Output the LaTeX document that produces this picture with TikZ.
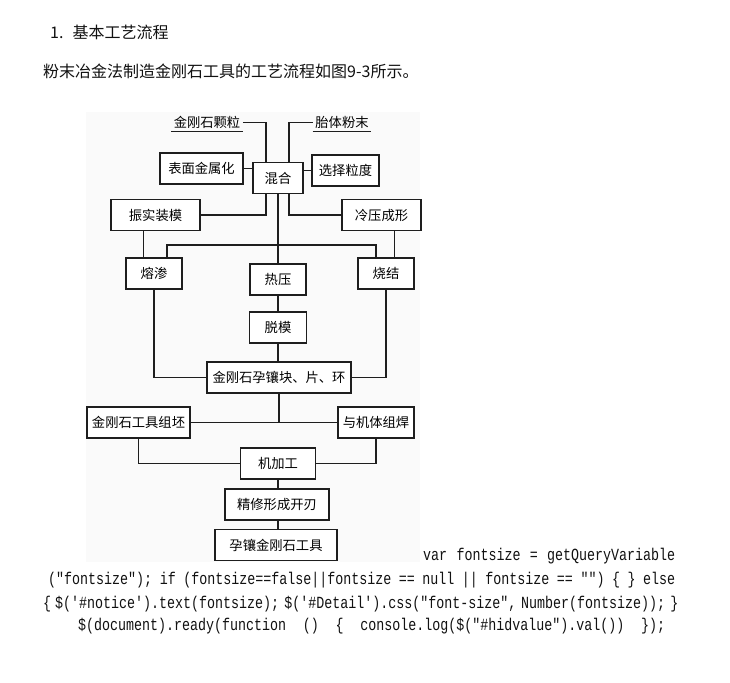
\documentclass[tikz,border=0pt]{standalone}
\usepackage{fontspec}
\setmainfont{Noto Sans CJK SC}
\setmonofont[FakeStretch=0.784]{Liberation Mono}
\usetikzlibrary{positioning}
\definecolor{figBack}{HTML}{FAFAFA}
\definecolor{figLine}{HTML}{1E1E1E}
\definecolor{pageText}{HTML}{111111}
\tikzset{
  box/.style={draw=figLine, fill=white, line width=1.2pt, inner sep=2pt,
              minimum height=31pt, font=\fontsize{13.3}{15}\selectfont},
  lbl/.style={inner sep=2.5pt, font=\fontsize{13.3}{15}\selectfont},
  link/.style={draw=figLine, line width=1.2pt},
  ann/.style={anchor=west, inner sep=0pt, text=pageText,
              font=\fontsize{16}{18}\selectfont},
  code/.style={anchor=west, inner sep=0pt, text=pageText,
              font={\ttfamily\fontsize{17}{19}\selectfont\spaceskip=8pt plus 30pt minus 4pt\relax}},
}

\begin{document}
\begin{tikzpicture}[x=1pt,y=-1pt]
    \path[fill=white,use as bounding box] (0,0) rectangle (730,682);
    \fill[figBack] (86,112) rectangle (420,562);

    % page text above the figure
    \node[ann] (title) at (50,32.5){1.\hspace{9pt}基本工艺流程};
    \node[ann] (intro) at (43,71){粉末冶金法制造金刚石工具的工艺流程如图9-3所示。};

    % raw materials and mixing
    \node[lbl] (diam) at (207,122.5){金刚石颗粒};
    \node[lbl] (matrix) at (342,122.5){胎体粉末};
    \node[box,minimum width=50pt] (mix) at (278,178){混合};
    \node[box,minimum width=83pt] (surf) at (201.5,168.5){表面金属化};
    \node[box,minimum width=67pt] (grain) at (345.5,170.5){选择粒度};
    \node[box,minimum width=89pt] (vib) at (155.5,215){振实装模};
    \node[box,minimum width=79pt] (cold) at (381.5,215){冷压成形};

    % sintering routes
    \node[box,minimum width=56pt] (inf) at (154,273.5){熔渗};
    \node[box,minimum width=56pt] (hot) at (278,279.5){热压};
    \node[box,minimum width=56pt] (sin) at (386,273.5){烧结};
    \node[box,minimum width=57pt] (demold) at (278,327.5){脱模};
    \node[box,minimum width=144pt] (seg) at (279,377.5){金刚石孕镶块、片、环};
    \coordinate (bus) at (278,245);

    % tool making
    \node[box,minimum width=103pt] (blank) at (138.5,422.5){金刚石工具组坯};
    \node[box,minimum width=76pt] (weld) at (376,422.5){与机体组焊};
    \node[box,minimum width=75pt] (mach) at (278,463.5){机加工};
    \node[box,minimum width=104pt] (edge) at (277,504.5){精修形成开刃};
    \node[box,minimum width=122pt] (tool) at (276,545){孕镶金刚石工具};

    % connectors
    \draw[link] (diam.south west) -- (diam.south east);
    \draw[link] (matrix.south west) -- (matrix.south east);
    \draw[link] (diam.east) -| ([xshift=-12pt]mix.north);
    \draw[link] (matrix.west) -| ([xshift=11pt]mix.north);
    \draw[link] (surf.east) -- (surf.east -| mix.west);
    \draw[link] (grain.west) -- (grain.west -| mix.east);
    \draw[link] (vib.east) -| ([xshift=-12pt]mix.south);
    \draw[link] (cold.west) -| ([xshift=11pt]mix.south);
    \draw[link] (mix.south) -- (hot.north);
    \draw[link] ([xshift=13pt]inf.north) |- (bus) -| ([xshift=-10pt]sin.north);
    \draw[link] ([xshift=-12pt]vib.south) -- ([xshift=-12pt]vib.south |- inf.north);
    \draw[link] ([xshift=13pt]cold.south) -- ([xshift=13pt]cold.south |- sin.north);
    \draw[link] (hot.south) -- (demold.north);
    \draw[link] (demold.south) -- (demold.south |- seg.north);
    \draw[link] (inf.south) |- (seg.west);
    \draw[link] (sin.south) |- (seg.east);
    \draw[link] (blank.east) -- (weld.west);
    \draw[link] (seg.south) -- (seg.south |- blank.east);
    \draw[link] (blank.south) |- (mach.west);
    \draw[link] (weld.south) |- (mach.east);
    \draw[link] (mach.south) -- (mach.south |- edge.north);
    \draw[link] (mach.south |- edge.south) -- (mach.south |- tool.north);

    % page text below the figure
    \node[code] (js1) at (423,556){\makebox[252pt][s]{var fontsize = getQueryVariable}};
    \node[code] (js2) at (48,580){\makebox[627pt][s]{("fontsize"); if (fontsize==false||fontsize == null || fontsize == "") \{ \} else}};
    \node[code] (js3) at (43,604){\makebox[628pt][s]{\{ \$('\#notice').text(fontsize); \$('\#Detail').css("font-size", Number(fontsize)); \}}};
    \node[code] (js4) at (78,626){\makebox[587pt][s]{\$(document).ready(function () \{ console.log(\$("\#hidvalue").val()) \});}};
  \end{tikzpicture}
\end{document}
